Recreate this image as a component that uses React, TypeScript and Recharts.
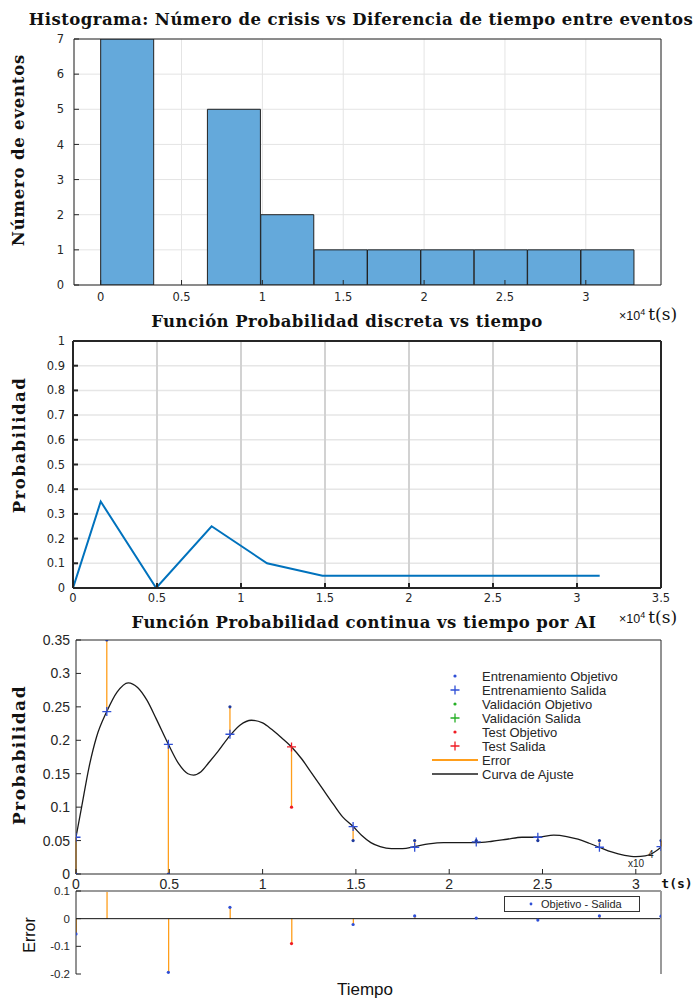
import React from 'react';
import {
  Bar,
  BarChart,
  CartesianGrid,
  ComposedChart,
  ErrorBar,
  Legend,
  Line,
  LineChart,
  ReferenceLine,
  Scatter,
  XAxis,
  YAxis,
} from 'recharts';

// histograma (t en segundos, el eje muestra x10^4)
const binCenters = [1650, 4950, 8250, 11550, 14850, 18150, 21450, 24750, 28050, 31350];
const binCounts = [7, 0, 5, 2, 1, 1, 1, 1, 1, 1];
const histXTicks = [0, 5000, 10000, 15000, 20000, 25000, 30000];
const histYTicks = [0, 1, 2, 3, 4, 5, 6, 7];

// probabilidad discreta
const probTimes = [0, 1650, 4950, 8250, 11550, 14850, 18150, 21450, 24750, 28050, 31350];
const probValues = [0, 0.35, 0, 0.25, 0.1, 0.05, 0.05, 0.05, 0.05, 0.05, 0.05];
const probXTicks = [0, 5000, 10000, 15000, 20000, 25000, 30000, 35000];
const probYTicks = [0, 0.1, 0.2, 0.3, 0.4, 0.5, 0.6, 0.7, 0.8, 0.9, 1];

// red neuronal: objetivo / salida
const aiTargets = [0, 0.35, 0, 0.25, 0.1, 0.05, 0.05, 0.05, 0.05, 0.05, 0.05];
const aiOutputs = [0.055, 0.243, 0.194, 0.209, 0.19, 0.071, 0.04, 0.048, 0.055, 0.04, 0.041];
const aiSets = ['train', 'train', 'train', 'train', 'test', 'train', 'train', 'train', 'train', 'train', 'train'];

// curva de ajuste
const fitTimes = [
  0, 300, 700, 1100, 1650, 2200, 2800, 3300, 3800, 4300, 4950, 5500, 6000, 6300, 6700, 7100,
  7600, 8250, 8800, 9400, 10000, 10500, 11000, 11550, 12100, 12600, 13200, 13800, 14300, 14850,
  15300, 15800, 16300, 16900, 17500, 18150, 18900, 19700, 20500, 21450, 22300, 23100, 23900,
  24750, 25600, 26300, 26900, 27500, 28050, 28700, 29400, 30000, 30500, 30900, 31350,
];
const fitValues = [
  0.055, 0.1, 0.16, 0.205, 0.243, 0.272, 0.286, 0.279, 0.26, 0.232, 0.194, 0.165, 0.15, 0.148,
  0.153, 0.166, 0.183, 0.207, 0.223, 0.23, 0.226, 0.216, 0.204, 0.19, 0.172, 0.152, 0.128, 0.104,
  0.085, 0.071, 0.058, 0.047, 0.041, 0.038, 0.038, 0.041, 0.045, 0.047, 0.047, 0.047, 0.049,
  0.052, 0.055, 0.055, 0.058, 0.056, 0.052, 0.046, 0.04, 0.033, 0.028, 0.026, 0.027, 0.031, 0.04,
];
const aiXTicks = [0, 5000, 10000, 15000, 20000, 25000, 30000];
const aiYTicks = [0, 0.05, 0.1, 0.15, 0.2, 0.25, 0.3, 0.35];
const errYTicks = [-0.2, -0.1, 0, 0.1];

const INK = '#262626';
const BLUE = '#2f4fd6';
const RED = '#f01c24';
const GREEN = '#25b025';
const ORANGE = '#ff9e1b';
const SERIF = '"DejaVu Serif", serif';
const SANS = '"Liberation Sans", Arial, sans-serif';
const TICKFONT = '"DejaVu Sans", sans-serif';

const histRows = binCenters.map((t, i) => ({ t, n: binCounts[i] }));
const probRows = probTimes.map((t, i) => ({ t, p: probValues[i] }));
const fitRows = fitTimes.map((t, i) => ({ t, p: fitValues[i] }));
const aiRows = probTimes.map((t, i) => {
  const target = aiTargets[i];
  const out = aiOutputs[i];
  return {
    t,
    target,
    out,
    range: [Math.max(0, out - target), Math.max(0, target - out)],
    e: target - out,
    set: aiSets[i],
  };
});
const trainRows = aiRows.filter((r) => r.set === 'train');
const testRows = aiRows.filter((r) => r.set === 'test');

const fmt1e4 = (v: number) => String(v / 1e4);
const smallTick = { fontSize: 11.5, fill: INK, fontFamily: TICKFONT };
const aiTick = { fontSize: 14, fill: INK, fontFamily: SANS };

const dotShape = (color: string) => (p: any) => <circle cx={p.cx} cy={p.cy} r={1.6} fill={color} />;
const plusShape = (color: string) => (p: any) => (
  <path
    d={`M${p.cx - 4.5},${p.cy}H${p.cx + 4.5}M${p.cx},${p.cy - 4.5}V${p.cy + 4.5}`}
    stroke={color}
    strokeWidth={1.3}
  />
);

const Txt = ({ x, y, rotate, style, children }: any) => (
  <div
    style={{
      position: 'absolute',
      left: x,
      top: y,
      transform: `translate(-50%, -50%)${rotate ? ' rotate(-90deg)' : ''}`,
      whiteSpace: 'nowrap',
      color: '#111',
      ...style,
    }}
  >
    {children}
  </div>
);

const titleStyle = { fontFamily: SERIF, fontWeight: 700, fontSize: 16.5, letterSpacing: 0.45 };
const ylabStyle = { fontFamily: SERIF, fontWeight: 700, fontSize: 16.5, letterSpacing: 1.5 };

const Multiplier = ({ top }: { top: number }) => (
  <div style={{ position: 'absolute', left: 619, top, whiteSpace: 'nowrap', color: '#111', lineHeight: '16px' }}>
    <span style={{ fontFamily: SANS, fontSize: 12.5 }}>
      ×10<sup style={{ fontSize: 9, lineHeight: 0 }}>4</sup>
    </span>
    <span style={{ fontFamily: SERIF, fontSize: 17, marginLeft: 3 }}>t(s)</span>
  </div>
);

const aiLegendItems = [
  { name: 'Entrenamiento Objetivo', color: BLUE, kind: 'dot' },
  { name: 'Entrenamiento Salida', color: BLUE, kind: 'plus' },
  { name: 'Validación Objetivo', color: GREEN, kind: 'dot' },
  { name: 'Validación Salida', color: GREEN, kind: 'plus' },
  { name: 'Test Objetivo', color: RED, kind: 'dot' },
  { name: 'Test Salida', color: RED, kind: 'plus' },
  { name: 'Error', color: ORANGE, kind: 'line' },
  { name: 'Curva de Ajuste', color: '#555', kind: 'line' },
];

const AiLegend = () => (
  <div style={{ fontFamily: SANS, fontSize: 13, color: INK }}>
    {aiLegendItems.map((it) => (
      <div key={it.name} style={{ display: 'flex', alignItems: 'center', height: 14 }}>
        <svg width={52} height={14}>
          {it.kind === 'dot' && <circle cx={25} cy={7} r={1.6} fill={it.color} />}
          {it.kind === 'plus' && (
            <path d="M20.5,7H29.5M25,2.5V11.5" stroke={it.color} strokeWidth={1.3} />
          )}
          {it.kind === 'line' && <line x1={2} x2={48} y1={7} y2={7} stroke={it.color} strokeWidth={2} />}
        </svg>
        <span>{it.name}</span>
      </div>
    ))}
  </div>
);

const ErrLegend = () => (
  <div
    style={{
      width: 134,
      height: 14,
      border: '1px solid #333',
      background: '#fff',
      display: 'flex',
      alignItems: 'center',
      fontFamily: SANS,
      fontSize: 11,
      color: INK,
    }}
  >
    <svg width={36} height={14}>
      <circle cx={26} cy={7} r={1.4} fill={BLUE} />
    </svg>
    <span>Objetivo - Salida</span>
  </div>
);

export default function App() {
  return (
    <div style={{ position: 'absolute', left: 0, top: 0, width: 694, height: 1000, background: '#fff' }}>
      {/* 1: histograma */}
      <div style={{ position: 'absolute', left: 0, top: 0 }}>
        <BarChart
          width={694}
          height={320}
          data={histRows}
          margin={{ top: 39, right: 33, bottom: 10, left: 44 }}
          barCategoryGap={0}
          barGap={0}
        >
          <CartesianGrid stroke="#e4e4e4" />
          <XAxis
            dataKey="t"
            type="number"
            domain={[-1650, 34650]}
            allowDataOverflow
            ticks={histXTicks}
            interval={0}
            tickFormatter={fmt1e4}
            height={25}
            tickSize={-5}
            tickMargin={13}
            tick={smallTick}
            stroke={INK}
          />
          <XAxis
            xAxisId="top"
            orientation="top"
            type="number"
            domain={[-1650, 34650]}
            allowDataOverflow
            ticks={histXTicks}
            interval={0}
            mirror
            tick={false}
            tickSize={5}
            stroke={INK}
          />
          <YAxis
            type="number"
            domain={[0, 7]}
            allowDataOverflow
            ticks={histYTicks}
            interval={0}
            width={30}
            tickSize={-5}
            tickMargin={15}
            tick={smallTick}
            stroke={INK}
          />
          <YAxis
            yAxisId="right"
            orientation="right"
            type="number"
            domain={[0, 7]}
            allowDataOverflow
            ticks={histYTicks}
            interval={0}
            mirror
            tick={false}
            tickSize={5}
            stroke={INK}
          />
          <Bar dataKey="n" fill="#64a9db" stroke="#222" strokeWidth={1} isAnimationActive={false} />
        </BarChart>
      </div>

      {/* 2: probabilidad discreta */}
      <div style={{ position: 'absolute', left: 0, top: 320 }}>
        <LineChart width={694} height={300} data={probRows} margin={{ top: 21, right: 33, bottom: 10, left: 43 }}>
          <CartesianGrid vertical={false} stroke="#e6e6e6" strokeWidth={1.5} />
          <CartesianGrid horizontal={false} stroke="#d2d2d2" strokeWidth={2} />
          <XAxis
            dataKey="t"
            type="number"
            domain={[0, 35000]}
            allowDataOverflow
            ticks={probXTicks}
            interval={0}
            tickFormatter={fmt1e4}
            height={22}
            tickSize={-5}
            tickMargin={11}
            tick={smallTick}
            stroke={INK}
            strokeWidth={2}
          />
          <XAxis
            xAxisId="top"
            orientation="top"
            type="number"
            domain={[0, 35000]}
            allowDataOverflow
            ticks={probXTicks}
            interval={0}
            mirror
            tick={false}
            tickSize={5}
            stroke={INK}
            strokeWidth={2}
          />
          <YAxis
            type="number"
            domain={[0, 1]}
            allowDataOverflow
            ticks={probYTicks}
            interval={0}
            width={30}
            tickSize={-5}
            tickMargin={13}
            tick={smallTick}
            stroke={INK}
            strokeWidth={2}
          />
          <YAxis
            yAxisId="right"
            orientation="right"
            type="number"
            domain={[0, 1]}
            allowDataOverflow
            ticks={probYTicks}
            interval={0}
            mirror
            tick={false}
            tickSize={5}
            stroke={INK}
            strokeWidth={2}
          />
          <Line type="linear" dataKey="p" stroke="#0072bd" strokeWidth={2} dot={false} isAnimationActive={false} />
        </LineChart>
      </div>

      {/* 3: probabilidad continua (AI) */}
      <div style={{ position: 'absolute', left: 0, top: 620 }}>
        <ComposedChart width={694} height={275} margin={{ top: 20, right: 33, bottom: 0, left: 36 }}>
          <XAxis
            dataKey="t"
            type="number"
            domain={[0, 31350]}
            allowDataOverflow
            ticks={aiXTicks}
            interval={0}
            tickFormatter={fmt1e4}
            height={21}
            tickSize={-5}
            tickMargin={10}
            tick={aiTick}
            stroke={INK}
          />
          <XAxis
            xAxisId="top"
            orientation="top"
            type="number"
            domain={[0, 31350]}
            allowDataOverflow
            ticks={aiXTicks}
            interval={0}
            mirror
            tick={false}
            tickSize={5}
            stroke={INK}
          />
          <YAxis
            type="number"
            domain={[0, 0.35]}
            allowDataOverflow
            ticks={aiYTicks}
            interval={0}
            width={40}
            tickSize={-5}
            tickMargin={11}
            tick={aiTick}
            stroke={INK}
          />
          <YAxis
            yAxisId="right"
            orientation="right"
            type="number"
            domain={[0, 0.35]}
            allowDataOverflow
            ticks={aiYTicks}
            interval={0}
            mirror
            tick={false}
            tickSize={5}
            stroke={INK}
          />
          <Line
            data={fitRows}
            dataKey="p"
            name="Curva de Ajuste"
            type="monotone"
            stroke="#1a1a1a"
            strokeWidth={1.3}
            dot={false}
            isAnimationActive={false}
          />
          <Scatter data={trainRows} dataKey="out" name="Entrenamiento Salida" shape={plusShape(BLUE)} isAnimationActive={false}>
            <ErrorBar dataKey="range" direction="y" width={0} stroke={ORANGE} strokeWidth={1.3} />
          </Scatter>
          <Scatter data={testRows} dataKey="out" name="Test Salida" shape={plusShape(RED)} isAnimationActive={false}>
            <ErrorBar dataKey="range" direction="y" width={0} stroke={ORANGE} strokeWidth={1.3} />
          </Scatter>
          <Scatter data={trainRows} dataKey="target" name="Entrenamiento Objetivo" shape={dotShape('#1f3a9e')} isAnimationActive={false} />
          <Scatter data={testRows} dataKey="target" name="Test Objetivo" shape={dotShape(RED)} isAnimationActive={false} />
          <Legend
            layout="vertical"
            align="center"
            verticalAlign="middle"
            content={() => <AiLegend />}
            wrapperStyle={{ left: 430, top: 49, width: 240 }}
          />
        </ComposedChart>
      </div>

      {/* 4: error */}
      <div style={{ position: 'absolute', left: 0, top: 880 }}>
        <ComposedChart
          width={694}
          height={120}
          data={aiRows}
          margin={{ top: 11, right: 33, bottom: 26, left: 36 }}
        >
          <XAxis
            dataKey="t"
            type="number"
            domain={[0, 31350]}
            allowDataOverflow
            ticks={aiXTicks}
            interval={0}
            height={0}
            tick={false}
            tickLine={false}
            stroke={INK}
          />
          <XAxis
            xAxisId="top"
            orientation="top"
            type="number"
            domain={[0, 31350]}
            allowDataOverflow
            ticks={aiXTicks}
            interval={0}
            mirror
            tick={false}
            tickSize={5}
            stroke="#9a9a9a"
            strokeWidth={2}
          />
          <YAxis
            type="number"
            domain={[-0.2, 0.1]}
            allowDataOverflow
            ticks={errYTicks}
            interval={0}
            width={40}
            tickSize={-5}
            tickMargin={11}
            tick={{ fontSize: 11.5, fill: INK, fontFamily: SANS }}
            stroke={INK}
          />
          <YAxis
            yAxisId="right"
            orientation="right"
            type="number"
            domain={[-0.2, 0.1]}
            allowDataOverflow
            ticks={errYTicks}
            interval={0}
            mirror
            tick={false}
            tickSize={5}
            stroke="#9a9a9a"
            strokeWidth={2}
          />
          <ReferenceLine y={0} stroke="#111" strokeWidth={1} />
          <Bar dataKey="e" barSize={1.3} fill={ORANGE} isAnimationActive={false} />
          <Scatter data={trainRows} dataKey="e" name="Objetivo - Salida" shape={dotShape(BLUE)} isAnimationActive={false} />
          <Scatter data={testRows} dataKey="e" name="Test" shape={dotShape(RED)} isAnimationActive={false} />
          <Legend
            layout="vertical"
            align="center"
            verticalAlign="middle"
            content={() => <ErrLegend />}
            wrapperStyle={{ left: 504, top: 16, width: 136 }}
          />
        </ComposedChart>
      </div>

      {/* textos */}
      <Txt x={361} y={19} style={titleStyle}>
        Histograma: Número de crisis vs Diferencia de tiempo entre eventos
      </Txt>
      <Txt x={18} y={150} rotate style={{ ...ylabStyle, letterSpacing: 0.8 }}>
        Número de eventos
      </Txt>
      <Multiplier top={306} />

      <Txt x={347} y={321} style={titleStyle}>
        Función Probabilidad discreta vs tiempo
      </Txt>
      <Txt x={19} y={445} rotate style={ylabStyle}>
        Probabilidad
      </Txt>
      <Multiplier top={609} />

      <Txt x={364} y={622} style={titleStyle}>
        Función Probabilidad continua vs tiempo por AI
      </Txt>
      <Txt x={19} y={755} rotate style={{ ...ylabStyle, fontSize: 17 }}>
        Probabilidad
      </Txt>
      <div style={{ position: 'absolute', left: 628, top: 850, fontFamily: SANS, fontSize: 10, color: INK, lineHeight: '9px' }}>
        <div style={{ paddingLeft: 20 }}>4</div>
        <div>x10</div>
      </div>
      <Txt x={677} y={883} style={{ fontFamily: '"DejaVu Sans Mono", monospace', fontWeight: 700, fontSize: 13 }}>
        t(s)
      </Txt>

      <Txt x={30} y={935} rotate style={{ fontFamily: SANS, fontSize: 16 }}>
        Error
      </Txt>
      <Txt x={365} y={990} style={{ fontFamily: SANS, fontSize: 17 }}>
        Tiempo
      </Txt>
    </div>
  );
}
